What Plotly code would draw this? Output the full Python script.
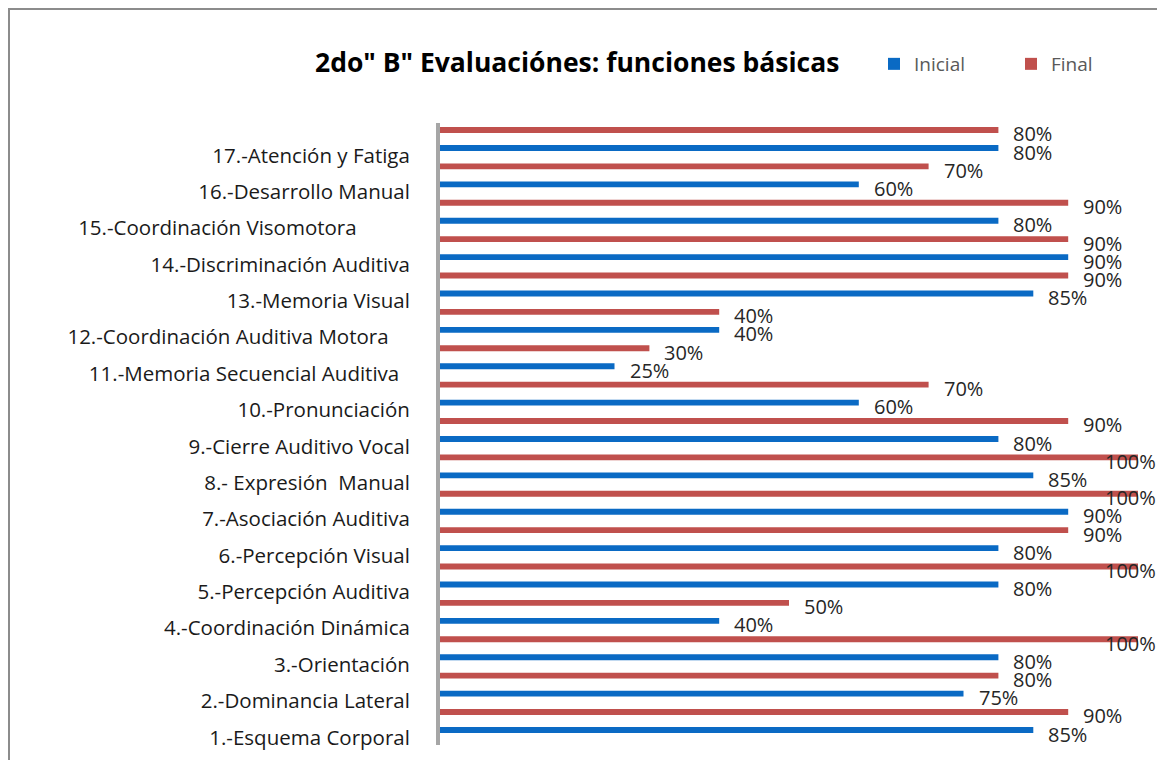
import plotly.graph_objects as go

categories = [
    "1.-Esquema Corporal",
    "2.-Dominancia Lateral",
    "3.-Orientación",
    "4.-Coordinación Dinámica",
    "5.-Percepción Auditiva",
    "6.-Percepción Visual",
    "7.-Asociación Auditiva",
    "8.- Expresión  Manual",
    "9.-Cierre Auditivo Vocal",
    "10.-Pronunciación",
    "11.-Memoria Secuencial Auditiva\u00a0\u00a0",
    "12.-Coordinación Auditiva Motora\u00a0\u00a0\u00a0\u00a0",
    "13.-Memoria Visual",
    "14.-Discriminación Auditiva",
    "15.-Coordinación Visomotora\u00a0\u00a0\u00a0\u00a0\u00a0\u00a0\u00a0\u00a0\u00a0\u00a0",
    "16.-Desarrollo Manual",
    "17.-Atención y Fatiga",
]
inicial = [85, 75, 80, 40, 80, 80, 90, 85, 80, 60, 25, 40, 85, 90, 80, 60, 80]
final = [90, 80, 100, 50, 100, 90, 100, 100, 90, 70, 30, 40, 90, 90, 90, 70, 80]

BLUE = "#0A6AC4"
RED = "#C0504D"
W, H = 1149, 752
L, R, T, B = 432, 0, 115, 15
PW, PH = W - L - R, H - T - B

pos = list(range(1, len(categories) + 1))

fig = go.Figure()
fig.add_trace(go.Bar(name="Inicial", y=pos, x=inicial, orientation="h",
                     marker=dict(color=BLUE, line=dict(width=0))))
fig.add_trace(go.Bar(name="Final", y=pos, x=final, orientation="h",
                     marker=dict(color=RED, line=dict(width=0))))

# data labels
for vals, off in ((inicial, -0.25), (final, 0.25)):
    for p, v in zip(pos, vals):
        fig.add_annotation(x=v, y=p + off, xref="x", yref="y",
                           text=f"{v}%", showarrow=False,
                           xanchor="left", yanchor="middle",
                           xshift=(-35 if v >= 100 else 13), yshift=-4,
                           font=dict(family="Open Sans", size=20, color="#262626"))

fig.update_layout(
    width=W, height=H,
    margin=dict(l=L, r=R, t=T, b=B, autoexpand=False),
    paper_bgcolor="white", plot_bgcolor="white",
    barmode="group", bargap=0.01, bargroupgap=0.67,
    title=dict(text="<b>2do\" B\" Evaluaciónes: funciones básicas</b>",
               xref="container", yref="container",
               x=307 / W, xanchor="left", y=1 - 55 / H, yanchor="middle",
               font=dict(family="Open Sans", size=26.5, color="#000000")),
    legend=dict(orientation="h", xref="container", yref="container",
                x=866 / W, xanchor="left", y=1 - 56 / H, yanchor="middle",
                font=dict(family="Open Sans", size=19, color="#595959"),
                itemwidth=30, entrywidth=92, traceorder="normal"),
    showlegend=True,
    xaxis=dict(range=[0, 100 * PW / 698], showgrid=False, zeroline=False,
               showticklabels=False, showline=False, ticks=""),
    yaxis=dict(range=[0.34, 17.44], tickmode="array",
               tickvals=[p - 0.45 for p in pos], ticktext=categories,
               showgrid=False, zeroline=False, ticks="",
               showline=True, linecolor="#A6A6A6", linewidth=4,
               ticklabelstandoff=22,
               tickfont=dict(family="Open Sans", size=20.5, color="#1a1a1a")),
)

# outer chart frame (left and top edges visible)
fig.add_shape(type="rect", xref="paper", yref="paper",
              x0=(1 - L) / PW, x1=(W + 20 - L) / PW,
              y0=-(B + 20) / PH, y1=1 + (T - 1) / PH,
              line=dict(color="#8C8C8C", width=2), layer="below")

fig.write_html("out.html")
